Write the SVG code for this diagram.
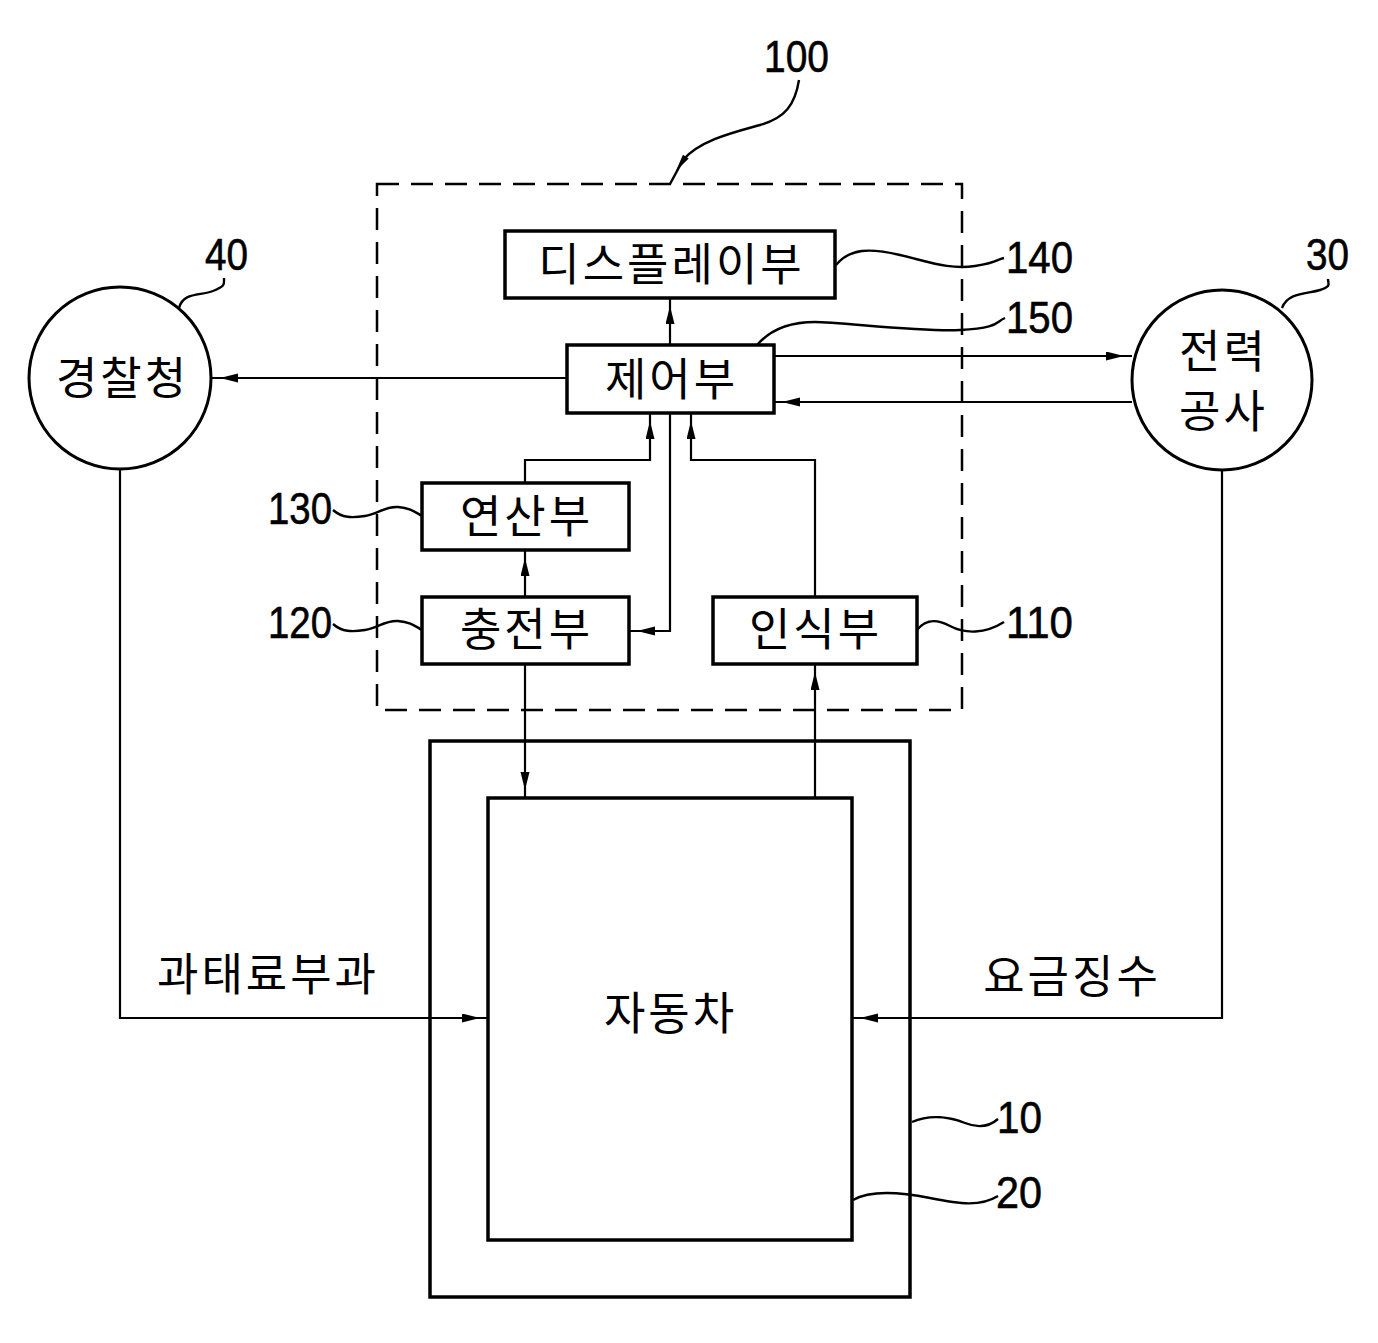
<svg xmlns="http://www.w3.org/2000/svg" width="1378" height="1343" viewBox="0 0 1378 1343">
<style>
.box{fill:none;stroke:#000;stroke-width:3.5}
.circ{fill:none;stroke:#000;stroke-width:3}
.dash{fill:none;stroke:#000;stroke-width:2.5;stroke-dasharray:22 12}
.con{fill:none;stroke:#000;stroke-width:2.2}
.lead{fill:none;stroke:#000;stroke-width:2.4}
.kr{font-family:"Noto Sans CJK KR","Noto Sans",sans-serif;font-size:45px;letter-spacing:3px;text-anchor:middle;fill:#000}
.num{font-family:"Liberation Sans",Arial,sans-serif;font-size:45px;fill:#000;stroke:#000;stroke-width:0.6}
</style>
<defs>
<marker id="ah" markerWidth="30" markerHeight="10" refX="26" refY="4.5" orient="auto" markerUnits="userSpaceOnUse">
<path d="M0,0 L18,4.5 L0,9 z" fill="#000"/>
</marker>
</defs>
<rect width="1378" height="1343" fill="#fff"/>

<g id="n100">
<rect class="dash" x="377" y="184" width="585" height="526"/>
</g>
<g id="n140"><rect class="box" x="505" y="231" width="330" height="67"/><text class="kr" x="671.5" y="281">디스플레이부</text></g>
<g id="n150"><rect class="box" x="567" y="345" width="207" height="68"/><text class="kr" x="671.5" y="396">제어부</text></g>
<g id="n130"><rect class="box" x="422" y="483" width="207" height="67"/><text class="kr" x="526.5" y="533">연산부</text></g>
<g id="n120"><rect class="box" x="422" y="597" width="207" height="67"/><text class="kr" x="526.5" y="646">충전부</text></g>
<g id="n110"><rect class="box" x="713" y="597" width="204" height="67"/><text class="kr" x="815.5" y="646">인식부</text></g>
<g id="n40"><circle class="circ" cx="120" cy="378" r="91"/><text class="kr" x="122.5" y="395">경찰청</text></g>
<g id="n30"><circle class="circ" cx="1222" cy="380" r="90"/><text class="kr" x="1223.5" y="368">전력</text><text class="kr" x="1223.5" y="428">공사</text></g>
<g id="n10"><rect class="box" x="430" y="741" width="480" height="556"/></g>
<g id="n20"><rect class="box" x="488" y="798" width="364" height="442"/><text class="kr" x="670.5" y="1030">자동차</text></g>

<g id="connectors">
<path class="con" d="M670 345 L670 298" marker-end="url(#ah)"/>
<path class="con" d="M567 378 L212 378" marker-end="url(#ah)"/>
<path class="con" d="M774 356 L1132 356" marker-end="url(#ah)"/>
<path class="con" d="M1132 402 L774 402" marker-end="url(#ah)"/>
<path class="con" d="M525 483 L525 460 L650 460 L650 413" marker-end="url(#ah)"/>
<path class="con" d="M815 597 L815 460 L691 460 L691 413" marker-end="url(#ah)"/>
<path class="con" d="M670 413 L670 631 L629 631" marker-end="url(#ah)"/>
<path class="con" d="M525 597 L525 550" marker-end="url(#ah)"/>
<path class="con" d="M525 664 L525 798" marker-end="url(#ah)"/>
<path class="con" d="M815 798 L815 664" marker-end="url(#ah)"/>
<path class="con" d="M120 469 L120 1018 L488 1018" marker-end="url(#ah)"/>
<path class="con" d="M1222 470 L1222 1018 L852 1018" marker-end="url(#ah)"/>
<text class="kr" x="268" y="991">과태료부과</text>
<text class="kr" x="1072" y="993">요금징수</text>
</g>

<g id="leaders">
<path class="lead" d="M799 80 C 795 105, 785 118, 760 125 S 700 140, 683 160 L 670 184"/>
<polygon points="676,171 688.7,158.6 682.9,154.8" fill="#000"/>
<text class="num" x="764" y="72" textLength="65" lengthAdjust="spacingAndGlyphs">100</text>
<path class="lead" d="M836 265 C 850 248, 870 248, 900 255 S 950 270, 975 266 S 995 260, 1004 258"/>
<text class="num" x="1006" y="273" textLength="67" lengthAdjust="spacingAndGlyphs">140</text>
<path class="lead" d="M757 345 C 770 330, 790 322, 815 322 S 920 332, 960 330 S 995 322, 1005 318"/>
<text class="num" x="1006" y="333" textLength="67" lengthAdjust="spacingAndGlyphs">150</text>
<path class="lead" d="M179 308 C 183 292, 200 296, 213 291 S 224 284, 224 278"/>
<text class="num" x="205" y="270" textLength="43" lengthAdjust="spacingAndGlyphs">40</text>
<path class="lead" d="M1282 308 C 1288 292, 1308 294, 1320 290 S 1328 284, 1328 279"/>
<text class="num" x="1306" y="270" textLength="43" lengthAdjust="spacingAndGlyphs">30</text>
<path class="lead" d="M333 510 C 342 518, 352 518, 365 516 S 385 506, 398 507 S 415 512, 422 516"/>
<text class="num" x="268" y="524" textLength="64" lengthAdjust="spacingAndGlyphs">130</text>
<path class="lead" d="M333 624 C 342 632, 352 632, 365 630 S 385 620, 398 621 S 415 626, 422 630"/>
<text class="num" x="268" y="638" textLength="64" lengthAdjust="spacingAndGlyphs">120</text>
<path class="lead" d="M917 630 C 925 620, 935 618, 950 626 S 985 634, 1004 622"/>
<text class="num" x="1006" y="638" textLength="67" lengthAdjust="spacingAndGlyphs">110</text>
<path class="lead" d="M912 1122 C 930 1114, 950 1117, 965 1123 S 990 1126, 998 1119"/>
<text class="num" x="997" y="1133" textLength="45" lengthAdjust="spacingAndGlyphs">10</text>
<path class="lead" d="M853 1200 C 870 1190, 900 1192, 930 1198 S 980 1207, 998 1196"/>
<text class="num" x="996" y="1208" textLength="46" lengthAdjust="spacingAndGlyphs">20</text>
</g>
</svg>
